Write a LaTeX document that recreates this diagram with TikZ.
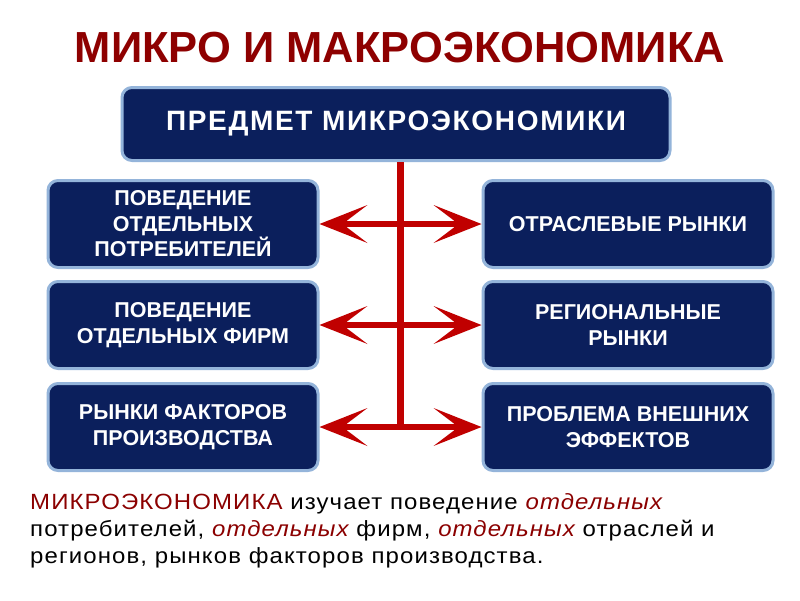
\documentclass[tikz,border=0pt]{standalone}
\usepackage{fontspec}
\setmainfont{Liberation Sans}
\newfontfamily\bodyfont[LetterSpace=5,FakeStretch=1.09]{Liberation Sans}
\newfontfamily\headfont[LetterSpace=6]{Liberation Sans}
\usetikzlibrary{arrows.meta}
\definecolor{navy}{HTML}{0B1F5C}
\definecolor{rim}{HTML}{94B4DA}
\definecolor{titlered}{HTML}{8E0000}
\definecolor{arrred}{HTML}{C00000}
\definecolor{txtred}{HTML}{8B0000}
\begin{document}
\begin{tikzpicture}[x=1pt,y=-1pt,
  box/.style={draw=rim, line width=3pt, fill=navy, rounded corners=10pt,
    text=white, font=\bfseries\fontsize{21.5}{25.5}\selectfont, align=center, inner sep=0pt},
  conn/.style={draw=arrred, line width=6.5pt,
    {Stealth[length=48pt,width=38pt,inset=25pt,line width=0pt]}-{Stealth[length=48pt,width=38pt,inset=25pt,line width=0pt]}},
  stem/.style={draw=arrred, line width=7pt},
  bodytxt/.style={anchor=base west, inner sep=0pt, font=\bodyfont\fontsize{22}{27}\selectfont}]
\useasboundingbox (0,0) rectangle (800,600);
\fill[white] (0,0) rectangle (800,600);

\node[text=titlered, font=\bfseries\fontsize{43.5}{46}\selectfont] (title) at (400,48) {МИКРО И МАКРОЭКОНОМИКА};

\node[box, minimum width=548pt, minimum height=73pt, font=\headfont\bfseries\fontsize{28}{32}\selectfont] (top) at (396,124) {ПРЕДМЕТ МИКРОЭКОНОМИКИ};

\node[box, minimum width=270pt, minimum height=87pt] (L1) at (183,224) {ПОВЕДЕНИЕ\\ОТДЕЛЬНЫХ\\ПОТРЕБИТЕЛЕЙ};
\node[box, minimum width=270pt, minimum height=87pt] (L2) at (183,325) {ПОВЕДЕНИЕ\\ОТДЕЛЬНЫХ ФИРМ};
\node[box, minimum width=270pt, minimum height=87pt] (L3) at (183,427) {РЫНКИ ФАКТОРОВ\\ПРОИЗВОДСТВА};

\node[box, minimum width=290pt, minimum height=87pt] (R1) at (628,224) {ОТРАСЛЕВЫЕ РЫНКИ};
\node[box, minimum width=290pt, minimum height=87pt] (R2) at (628,325) {РЕГИОНАЛЬНЫЕ\\РЫНКИ};
\node[box, minimum width=290pt, minimum height=87pt] (R3) at (628,427) {ПРОБЛЕМА ВНЕШНИХ\\ЭФФЕКТОВ};

\coordinate (v) at (400,427);
\draw[stem] (top.south -| v) -- (v);
\draw[conn] (L1.east) -- (R1.west);
\draw[conn] (L2.east) -- (R2.west);
\draw[conn] (L3.east) -- (R3.west);

\node[bodytxt] (line1) at (30,509) {\textcolor{txtred}{МИКРОЭКОНОМИКА} изучает поведение \textcolor{txtred}{\itshape отдельных}};
\node[bodytxt] (line2) at (30,536) {потребителей, \textcolor{txtred}{\itshape отдельных} фирм, \textcolor{txtred}{\itshape отдельных} отраслей и};
\node[bodytxt] (line3) at (30,563) {регионов, рынков факторов производства.};
\end{tikzpicture}
\end{document}
